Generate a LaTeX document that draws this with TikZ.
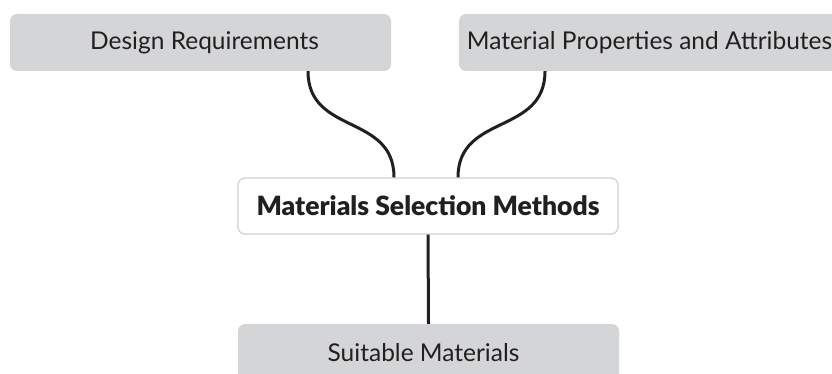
\documentclass[tikz,border=0pt]{standalone}
\usepackage{fontspec}
\setmainfont{Lato}
\newfontfamily\heavyface{Lato Black}
\definecolor{boxgray}{HTML}{D4D5D7}
\definecolor{ink}{HTML}{231F20}
\definecolor{rim}{HTML}{D0D1D3}
\tikzset{
  graybox/.style={rectangle, rounded corners=7pt, fill=boxgray, draw=none,
    minimum width=381pt, minimum height=57pt, inner sep=0pt,
    text=ink, font=\fontsize{24.5}{28}\selectfont},
  mainbox/.style={rectangle, rounded corners=7pt, fill=white, draw=rim, line width=1.2pt,
    minimum width=380pt, minimum height=56pt, inner sep=0pt,
    text=ink, font=\fontsize{26.5}{30}\heavyface},
  conn/.style={draw=ink, line width=3pt}
}
\begin{document}
\begin{tikzpicture}[x=1pt,y=-1pt]
\useasboundingbox (0,0) rectangle (832,374);
\node[graybox] (dr) at (200.5,42.5) {\hspace*{8pt}Design Requirements};
\node[graybox] (mp) at (649.5,42.5) {Material Properties and Attributes};
\node[mainbox] (ms) at (428,206) {Materials Selection Methods};
\node[graybox] (sm) at (428.5,352.5) {Suitable Materials\hspace*{10pt}};
% two S-shaped feeders into the method box, one straight line out of it
\draw[conn] ([xshift=107.5]dr.south) .. controls +(0,64) and +(0,-64) .. ([xshift=-34]ms.north);
\draw[conn] ([xshift=-104.5]mp.south) .. controls +(0,64) and +(0,-64) .. ([xshift=30]ms.north);
\draw[conn] (ms.south) -- (sm.north);
\end{tikzpicture}
\end{document}
